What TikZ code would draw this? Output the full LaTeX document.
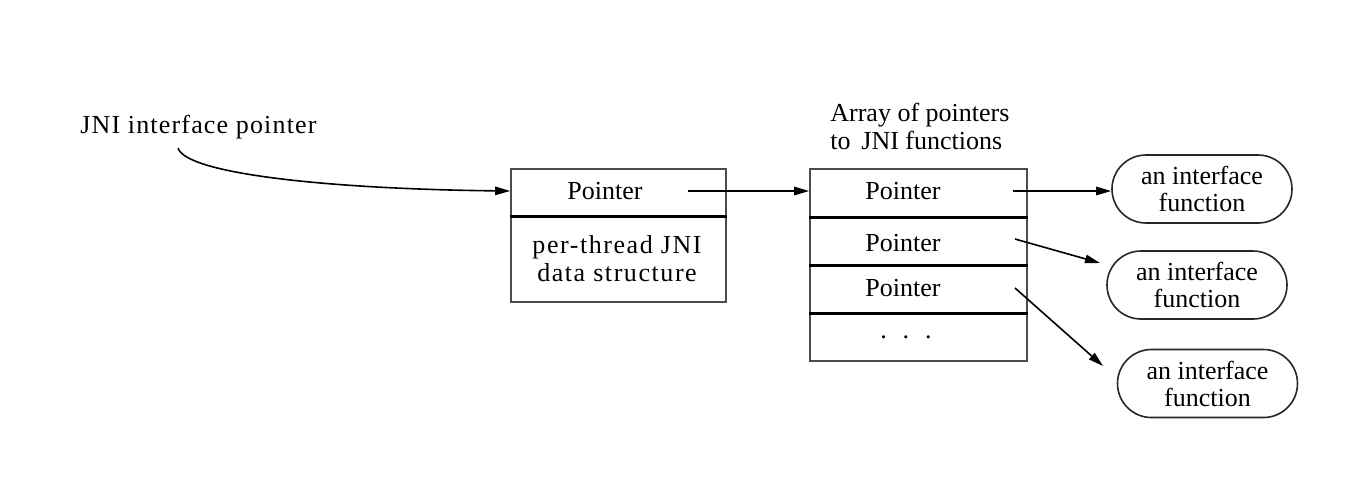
\documentclass[tikz,border=0pt]{standalone}
\usepackage{fontspec}
\setmainfont{Liberation Serif}
\usetikzlibrary{arrows.meta}
\begin{document}
\begin{tikzpicture}[x=0.5pt,y=-0.5pt,
  txt/.style={font=\fontsize{13}{14}\selectfont, inner sep=0pt},
  cellbox/.style={draw=black!70, line width=0.8pt, inner sep=0pt},
  divider/.style={line width=1.4pt, black},
  fun/.style={draw=black!85, line width=0.8pt, rounded corners=17pt, minimum width=90pt, minimum height=34pt, align=center, inner sep=0pt, font=\fontsize{13}{13.5}\selectfont},
  arr/.style={line width=0.8pt, -{Triangle[length=7.5pt,width=4.2pt]}}
]
\useasboundingbox (0,0) rectangle (1356,479);
% label
\node[txt, anchor=west] (jni) at (80,127) {\addfontfeature{LetterSpace=4.5}JNI interface pointer};
\coordinate (jnistart) at (178,148);
% box 1
\node[cellbox, minimum width=107.5pt, minimum height=23.5pt] (b1top) at (618.5,192.5) {};
\node[cellbox, minimum width=107.5pt, minimum height=43pt] (b1bot) at (618.5,259) {};
\draw[divider] (b1top.south west) -- (b1top.south east);
\node[txt] (b1ptr) at (605,191) {Pointer};
\node[txt, align=center] (b1data) at (617,259) {\addfontfeature{LetterSpace=6}per-thread JNI\\\addfontfeature{LetterSpace=6}data structure};
\coordinate (b1start) at (688,191);
% box 2
\node[txt, anchor=west, align=left] (title) at (830,126) {Array of pointers\\to\, JNI functions};
\node[cellbox, minimum width=108.5pt, minimum height=24pt] (c1) at (918.5,193) {};
\node[cellbox, minimum width=108.5pt, minimum height=24pt] (c2) at (918.5,241) {};
\node[cellbox, minimum width=108.5pt, minimum height=24pt] (c3) at (918.5,289) {};
\node[cellbox, minimum width=108.5pt, minimum height=24pt] (c4) at (918.5,337) {};
\draw[divider] (c1.south west) -- (c1.south east);
\draw[divider] (c2.south west) -- (c2.south east);
\draw[divider] (c3.south west) -- (c3.south east);
\node[txt] (p1) at (903,191) {Pointer};
\node[txt] (p2) at (903,243) {Pointer};
\node[txt] (p3) at (903,288) {Pointer};
\node[txt] (dots) at (906,337) {.\hspace{8pt}.\hspace{8pt}.};
\coordinate (s1) at (1013,191);
\coordinate (s2) at (1015,239);
\coordinate (s3) at (1015,288);
% functions
\node[fun] (f1) at (1202,189) {an interface\\function};
\node[fun] (f2) at (1197,285) {an interface\\function};
\node[fun] (f3) at (1207.5,383.5) {an interface\\function};
% arrows
\draw[arr] (jnistart) .. controls (186,174) and (330,189) .. (b1top.west |- b1start);
\draw[arr] (b1start) -- (b1start -| c1.west);
\draw[arr] (s1) -- (s1 -| f1.west);
\draw[arr] (s2) -- (1100,263);
\draw[arr] (s3) -- (1103,366);
\end{tikzpicture}
\end{document}
